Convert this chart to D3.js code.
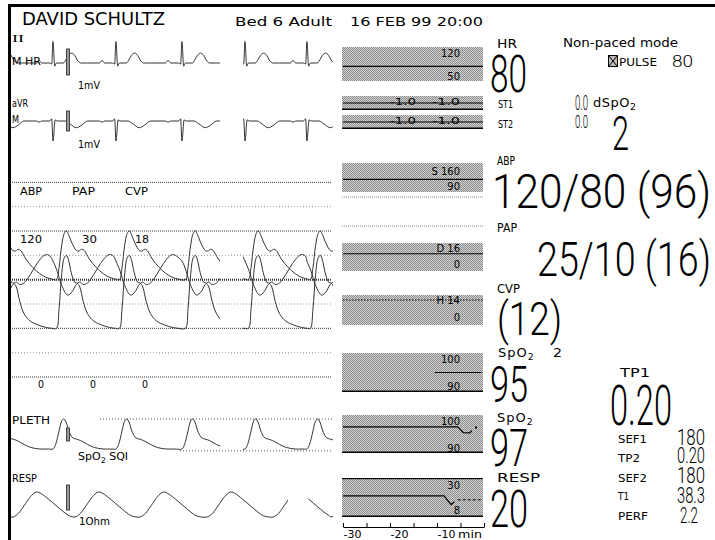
<!DOCTYPE html>
<html>
<head>
<meta charset="utf-8">
<script src="https://cdn.jsdelivr.net/npm/d3@7"></script>
<style>
body { margin: 0; background: #fff; }
svg { display: block; }
text { font-family: "DejaVu Sans", sans-serif; fill: #000; }
.num { font-family: "Roboto", "Liberation Sans Narrow", sans-serif; font-weight: 300; }
</style>
</head>
<body>
<svg id="mon" width="715" height="540"></svg>
<script>
// Patient monitor screen

// beat times (R wave), seconds on the 25 mm/s sweep
var beatTimes = [-0.26, 0.474, 1.202, 1.965, 2.694, 3.41, 4.14];

// ECG lead II, [s from R, mV]
var ecgII = [[-0.22, 0], [-0.19, 0], [-0.16, 0.12], [-0.13, 0], [-0.04, 0], [-0.015, -0.05],
  [0, 1.0], [0.02, -0.15], [0.04, 0], [0.12, 0], [0.15, 0.15], [0.18, 0.36], [0.215, 0.46],
  [0.25, 0.36], [0.28, 0.14], [0.32, 0], [0.40, 0]];
// ECG lead aVR
var ecgAVR = [[-0.22, 0], [-0.19, 0], [-0.16, -0.06], [-0.13, 0], [-0.04, 0], [-0.015, 0.1],
  [0, -0.95], [0.025, 0.05], [0.05, 0], [0.14, 0], [0.20, -0.15], [0.27, -0.32],
  [0.33, -0.2], [0.40, 0]];
// pressures, mmHg
var abpBeat = [[0.04, 80], [0.07, 90], [0.10, 108], [0.13, 118], [0.155, 120], [0.18, 117],
  [0.22, 110], [0.27, 104], [0.30, 103.5], [0.33, 105], [0.36, 104], [0.42, 97], [0.50, 90],
  [0.58, 85], [0.65, 82], [0.72, 80.5]];
var papBeat = [[0.04, 10], [0.07, 14], [0.10, 21], [0.13, 24.5], [0.155, 25], [0.18, 24],
  [0.21, 21.5], [0.25, 19.5], [0.28, 19.3], [0.31, 18.5], [0.35, 15.5], [0.40, 13],
  [0.47, 11.5], [0.56, 10.7], [0.65, 10.2], [0.72, 10]];
var cvpBeat = [[0.00, 14.3], [0.05, 13.0], [0.10, 11.3], [0.17, 10.1], [0.22, 10.5],
  [0.27, 11.4], [0.31, 11.7], [0.35, 11.4], [0.40, 11.6], [0.47, 12.6], [0.55, 14.0],
  [0.62, 14.9], [0.66, 15.1], [0.70, 14.9]];
// pleth, relative amplitude
var plethBeat = [[0.0, 0.0], [0.03, 0.15], [0.07, 0.6], [0.10, 0.93], [0.125, 1.0],
  [0.15, 0.9], [0.19, 0.55], [0.23, 0.37], [0.27, 0.33], [0.32, 0.28], [0.40, 0.15],
  [0.48, 0.05], [0.58, 0.0], [0.68, 0.0]];
// respiration (slow sweep), trough times in s
var respTimes = [-2.9, 0.045, 2.855, 5.80, 8.84, 11.83, 14.45];
var respBreath = [[0, 0], [0.25, 0.15], [0.5, 0.45], [0.8, 0.82], [1.0, 0.98], [1.1, 1.0],
  [1.25, 0.95], [1.6, 0.72], [2.0, 0.42], [2.3, 0.2], [2.55, 0.05]];

var pressureGrid = [0, 20, 40, 60, 80, 100, 120, 140, 160];

// trends, [min, value]
var hrTrend = [[-30, 80], [0, 80]];
var st1Trend = [[-30, 0], [0, 0]];
var st2Trend = [[-30, 0], [0, 0]];
var abpTrend = [[-30, 120], [0, 120]];
var papTrend = [[-30, 10], [0, 10]];
var cvpTrend = [[-30, 12], [0, 12]];
var spo2aTrend = [[-10.5, 95], [-0.5, 95]];
var spo2bTrend = [[-30, 97], [-5.6, 97], [-4.4, 95.4], [-3.0, 95.3], [-2.6, 95.9]];
var spo2bDot = [[-1.7, 96.8]];
var respTrend = [[-30, 20], [-8.5, 20], [-7.0, 14.8], [-6.3, 16.5]];
var respTrendLate = [[-5.6, 17.6], [-0.6, 17.6]];
var trendTicks = [-30, -25, -20, -15, -10, -5, 0];
var trendLabels = [-30, -20, -10];

var svg = d3.select("#mon");

var defs = svg.append("defs");
var pat = defs.append("pattern").attr("id", "dots")
  .attr("width", 2).attr("height", 2).attr("patternUnits", "userSpaceOnUse");
pat.append("rect").attr("width", 2).attr("height", 2).attr("fill", "#d4d4d4");
pat.append("rect").attr("width", 1).attr("height", 1).attr("fill", "#8a8a8a");
pat.append("rect").attr("x", 1).attr("y", 1).attr("width", 1).attr("height", 1).attr("fill", "#8a8a8a");

var clipWave = defs.append("clipPath").attr("id", "clipWave");
clipWave.append("rect").attr("x", 11).attr("y", 0).attr("width", 209).attr("height", 540);
clipWave.append("rect").attr("x", 243).attr("y", 0).attr("width", 90).attr("height", 540);
var clipResp = defs.append("clipPath").attr("id", "clipResp");
clipResp.append("rect").attr("x", 11).attr("y", 0).attr("width", 277).attr("height", 540);
clipResp.append("rect").attr("x", 308).attr("y", 0).attr("width", 25).attr("height", 540);
var clipTrend = defs.append("clipPath").attr("id", "clipTrend");
clipTrend.append("rect").attr("x", 342).attr("y", 0).attr("width", 141).attr("height", 540);

// frame
svg.append("rect").attr("x", 8).attr("y", 4).attr("width", 707).attr("height", 3).attr("fill", "#000");
svg.append("rect").attr("x", 8).attr("y", 4).attr("width", 3).attr("height", 536).attr("fill", "#000");

function txt(x, y, s, size, len, cls, anchor) {
  var t = svg.append("text").attr("x", x).attr("y", y)
    .attr("font-size", size).text(s);
  if (len) t.attr("textLength", len).attr("lengthAdjust", "spacingAndGlyphs");
  if (cls) t.attr("class", cls);
  if (anchor) t.attr("text-anchor", anchor);
  return t;
}
function sub(x, y, parts, size) {
  // parts: [text, isSub, dy]
  var t = svg.append("text").attr("x", x).attr("y", y).attr("font-size", size);
  parts.forEach(function (p) {
    t.append("tspan").text(p[0])
      .attr("font-size", p[1] ? size * 0.72 : size)
      .attr("dy", p[1] ? 3 : (p[2] || 0));
  });
  return t;
}

// header
txt(22, 25, "DAVID SCHULTZ", 17, 143);
txt(235, 26, "Bed  6 Adult", 12, 97);
txt(350, 26, "16 FEB 99 20:00", 12, 133);

// waveform scales
var waveX = d3.scaleLinear().domain([0, 3.7]).range([12, 332]);
var respX = d3.scaleLinear().domain([0, 14.5]).range([12, 332]);
var ecgY = d3.scaleLinear().domain([0, 1]).range([63, 41.5]);
var avrY = d3.scaleLinear().domain([0, 1]).range([121, 100]);
var abpY = d3.scaleLinear().domain([0, 120]).range([377, 231]);
var papY = d3.scaleLinear().domain([0, 30]).range([377, 231]);
var cvpY = d3.scaleLinear().domain([0, 18]).range([377, 231]);
var plethY = d3.scaleLinear().domain([0, 1]).range([449, 419]);
var respY = d3.scaleLinear().domain([0, 1]).range([517, 492]);

function build(times, tpl) {
  var pts = [];
  times.forEach(function (t0) {
    tpl.forEach(function (p) { pts.push([t0 + p[0], p[1]]); });
  });
  return pts;
}
function trace(pts, xs, ys, clip, curve) {
  var line = d3.line().x(function (d) { return xs(d[0]); })
    .y(function (d) { return ys(d[1]); }).curve(curve || d3.curveMonotoneX);
  svg.append("path").attr("d", line(pts)).attr("fill", "none")
    .attr("stroke", "#333").attr("stroke-width", 1)
    .attr("clip-path", "url(#" + clip + ")");
}
function calBar(x, y0, y1) {
  svg.append("rect").attr("x", x + 0.5).attr("y", y0).attr("width", 3).attr("height", y1 - y0)
    .attr("fill", "#999").attr("stroke", "#444").attr("stroke-width", 1);
}

// ECG II
txt(12, 42, "II", 11, 12).style("font-family", "Liberation Serif, serif");
trace(build(beatTimes, ecgII), waveX, ecgY, "clipWave");
txt(12, 65, "M HR", 10.5, 29);
calBar(66, 49, 75);
txt(78, 89, "1mV", 10, 22);

// aVR
txt(12, 107, "aVR", 10.5, 16);
trace(build(beatTimes, ecgAVR), waveX, avrY, "clipWave");
txt(12, 123, "M", 10.5, 7);
calBar(66, 111, 131);
txt(78, 148, "1mV", 10, 22);

// pressure grid
pressureGrid.forEach(function (v) {
  var dark = v % 40 === 0;
  svg.append("line").attr("x1", 12).attr("x2", 332)
    .attr("y1", abpY(v)).attr("y2", abpY(v))
    .attr("stroke", dark ? "#333" : "#999")
    .attr("stroke-width", v === 80 ? 2 : 1)
    .attr("stroke-dasharray", dark ? "1,1" : "1,2");
});
txt(20, 195, "ABP", 10.5, 22);
txt(72, 195, "PAP", 10.5, 23);
txt(125, 195, "CVP", 10.5, 23);
txt(20, 243, "120", 10.5, 22);
txt(82, 243, "30", 10.5, 15);
txt(135, 243, "18", 10.5, 14);
txt(38, 388, "0", 10, 6);
txt(90, 388, "0", 10, 6);
txt(142, 388, "0", 10, 6);
trace(build(beatTimes, abpBeat), waveX, abpY, "clipWave", d3.curveCatmullRom);
trace(build(beatTimes, papBeat), waveX, papY, "clipWave", d3.curveCatmullRom);
trace(build(beatTimes, cvpBeat), waveX, cvpY, "clipWave", d3.curveCatmullRom);

// pleth
svg.append("line").attr("x1", 100).attr("x2", 332).attr("y1", plethY(1)).attr("y2", plethY(1))
  .attr("stroke", "#555").attr("stroke-dasharray", "1,2");
svg.append("line").attr("x1", 180).attr("x2", 332).attr("y1", plethY(-0.06)).attr("y2", plethY(-0.06))
  .attr("stroke", "#555").attr("stroke-dasharray", "1,2");
txt(12, 424, "PLETH", 10.5, 38);
trace(build(beatTimes, plethBeat), waveX, plethY, "clipWave", d3.curveCatmullRom);
calBar(66, 428, 441);
sub(78, 460, [["SpO", false], ["2", true], [" SQI", false, -3]], 11);

// resp
txt(12, 482, "RESP", 10.5, 25);
trace(build(respTimes, respBreath), respX, respY, "clipResp", d3.curveCatmullRom);
calBar(66, 485, 510);
txt(79, 525, "1Ohm", 10.5, 31);

// trend panel
var trendX = d3.scaleLinear().domain([-30, 0]).range([343, 484]);

var boxes = [
  { y0: 47, y1: 81, dom: [50, 120], top: "120", bot: "50", ty: 57, by: 80, data: [hrTrend] },
  { y0: 96, y1: 110, dom: [-1, 1], st: true, data: [st1Trend], edge: true },
  { y0: 115, y1: 129, dom: [-1, 1], st: true, data: [st2Trend], edge: true },
  { y0: 163, y1: 192, dom: [90, 160], top: "S 160", bot: "90", ty: 175, by: 190, data: [abpTrend] },
  { y0: 243, y1: 271, dom: [0, 16], top: "D 16", bot: "0", ty: 252, by: 268, data: [papTrend] },
  { y0: 295, y1: 325, dom: [0, 14], top: "H 14", bot: "0", ty: 304, by: 321, data: [cvpTrend], dotted: true },
  { y0: 353, y1: 392, dom: [90, 100], top: "100", bot: "90", ty: 363, by: 390, data: [spo2aTrend], edge: true },
  { y0: 415, y1: 453, dom: [90, 100], top: "100", bot: "90", ty: 425, by: 452, data: [spo2bTrend], dot: spo2bDot, edge: true },
  { y0: 478, y1: 517, dom: [8, 30], top: "30", bot: "8", ty: 489, by: 514, data: [respTrend], late: respTrendLate, edge: true, topEdge: true }
];

boxes.forEach(function (b) {
  svg.append("rect").attr("x", 342).attr("y", b.y0).attr("width", 141)
    .attr("height", b.y1 - b.y0).attr("fill", "url(#dots)");
  var ys = d3.scaleLinear().domain(b.dom).range([b.y1 - 1, b.y0 + 1]);
  var line = d3.line().x(function (d) { return trendX(d[0]); })
    .y(function (d) { return ys(d[1]); });
  if (b.top) {
    txt(460, b.ty, b.top, 10, null, null, "end");
    txt(460, b.by, b.bot, 10, null, null, "end");
  }
  if (b.st) {
    txt(390, b.y0 + 9, "-1.0", 9.5, 26);
    txt(432, b.y0 + 9, "-1.0", 9.5, 28);
  }
  b.data.forEach(function (d) {
    svg.append("path").attr("d", line(d)).attr("fill", "none")
      .attr("stroke", "#000").attr("stroke-width", 1.2)
      .attr("stroke-dasharray", b.dotted ? "1.5,1.5" : null)
      .attr("clip-path", "url(#clipTrend)");
  });
  if (b.late) {
    svg.append("path").attr("d", line(b.late)).attr("fill", "none")
      .attr("stroke", "#000").attr("stroke-dasharray", "3,2");
  }
  if (b.dot) {
    svg.selectAll(null).data(b.dot).enter().append("rect")
      .attr("x", function (d) { return trendX(d[0]) - 1; })
      .attr("y", function (d) { return ys(d[1]) - 1; })
      .attr("width", 2).attr("height", 2).attr("fill", "#000");
  }
  if (b.edge) {
    svg.append("rect").attr("x", 342).attr("y", b.y1 - 1.5).attr("width", 141)
      .attr("height", 1.5).attr("fill", "#000");
  }
  if (b.topEdge) {
    svg.append("rect").attr("x", 342).attr("y", b.y0).attr("width", 141)
      .attr("height", 1.2).attr("fill", "#000");
  }
});
[197, 226].forEach(function (y) {
  svg.append("line").attr("x1", 342).attr("x2", 483).attr("y1", y).attr("y2", y)
    .attr("stroke", "#888").attr("stroke-dasharray", "1,1");
});

var axis = d3.axisBottom(trendX).tickValues(trendTicks).tickSize(-4).tickSizeOuter(0)
  .tickFormat(function (d) { return trendLabels.indexOf(d) >= 0 ? String(d) : ""; });
var ag = svg.append("g").attr("transform", "translate(0,527)").call(axis);
ag.select(".domain").attr("stroke", "#000");
ag.selectAll(".tick line").attr("stroke", "#000");
ag.selectAll("text").attr("y", 11).attr("dy", 0).attr("text-anchor", "start")
  .attr("font-size", 11).attr("font-family", "DejaVu Sans").attr("fill", "#000");
txt(458, 538, "min", 11, 24);

// numerics
txt(497, 48, "HR", 13, 20);
txt(490, 92, "80", 51, 37, "num");
txt(563, 47, "Non-paced mode", 12, 115);
svg.append("rect").attr("x", 608.5).attr("y", 55.5).attr("width", 9).attr("height", 11)
  .attr("fill", "#bbb").attr("stroke", "#000");
svg.append("path").attr("d", "M609,56 L617,66 M617,56 L609,66")
  .attr("stroke", "#000").attr("fill", "none");
txt(619, 66, "PULSE", 10.5, 38);
txt(672, 67, "80", 16, 21, "num");

txt(498, 108, "ST1", 10.5, 15);
txt(498, 128, "ST2", 10.5, 15);
txt(575, 110, "0.0", 20, 13, "num");
txt(575, 128, "0.0", 18, 13, "num");
sub(593, 107, [["dSpO", false], ["2", true]], 13).attr("letter-spacing", 0.5);
txt(612, 150, "2", 48, 17, "num");

txt(497, 165, "ABP", 13, 18);
txt(492, 208, "120/80 (96)", 49, 219, "num");
txt(497, 232, "PAP", 13, 20);
txt(537, 276, "25/10 (16)", 49, 174, "num");
txt(497, 293, "CVP", 13, 23);
txt(497, 335, "(12)", 47, 65, "num");

sub(498, 357, [["SpO", false], ["2", true]], 13).attr("letter-spacing", 1);
txt(553, 357, "2", 13, 9);
txt(490, 402, "95", 50, 38, "num");
sub(497, 422, [["SpO", false], ["2", true]], 13).attr("letter-spacing", 1);
txt(490, 466, "97", 52, 38, "num");
txt(497, 482, "RESP", 13, 43);
txt(490, 527, "20", 52, 38, "num");

txt(620, 377, "TP1", 13, 30);
txt(610, 425, "0.20", 55, 62, "num");
txt(618, 443, "SEF1", 11, 29);
txt(677, 445, "180", 22, 28, "num");
txt(618, 462, "TP2", 11, 22);
txt(677, 463, "0.20", 22, 28, "num");
txt(618, 482, "SEF2", 11, 29);
txt(677, 483, "180", 22, 28, "num");
txt(618, 500, "T1", 11, 11);
txt(677, 503, "38.3", 22, 28, "num");
txt(618, 520, "PERF", 11, 30);
txt(680, 523, "2.2", 22, 18, "num");
</script>
</body>
</html>
